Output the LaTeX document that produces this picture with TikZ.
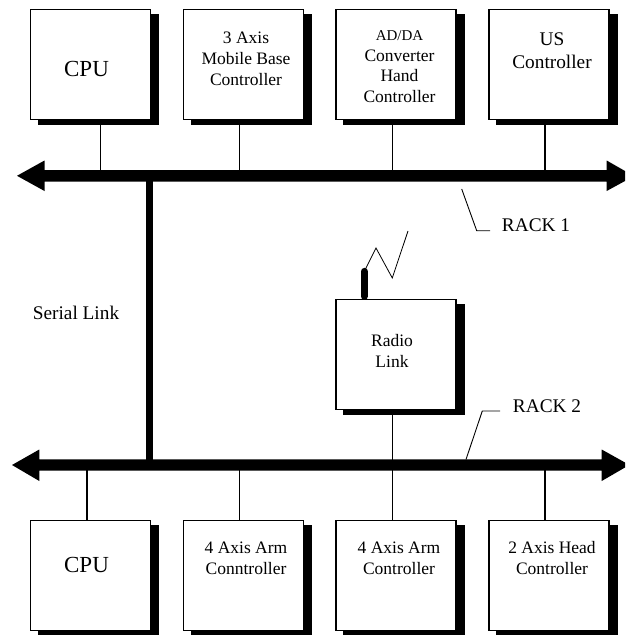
\documentclass[tikz,border=0pt]{standalone}
\usepackage{fontspec}
\setmainfont{Liberation Serif}
\usetikzlibrary{shadows}
\tikzset{
  x=1pt,y=-1pt,
  boxnode/.style={draw=black,line width=1.4pt,fill=white,minimum width=120pt,minimum height=110pt,inner sep=0pt,outer sep=0pt,
    copy shadow={fill=black,draw=black,shadow xshift=8pt,shadow yshift=-5pt}},
  txt/.style={inner sep=0pt,outer sep=0pt,anchor=base,align=center,font=\fontsize{17.5}{20.6}\selectfont},
  big/.style={txt,font=\fontsize{19.3}{23}\selectfont},
  cpu/.style={txt,font=\fontsize{23}{26}\selectfont},
  wire/.style={line width=1.3pt,draw=black},
  leader/.style={line width=0.9pt,draw=black},
  busline/.style={fill=black,draw=none},
  linkline/.style={line width=7.5pt,draw=black},
}
\begin{document}
\begin{tikzpicture}
\useasboundingbox (0,0) rectangle (625,635);
% named points
\coordinate (bus1) at (320,176);
\coordinate (bus2) at (320,465);
\coordinate (t1) at (100.5,0);
\coordinate (t2) at (239.5,0);
\coordinate (t3) at (392.5,0);
\coordinate (t4) at (545,0);
\coordinate (b1) at (87,0);
\coordinate (link) at (149.5,0);
\coordinate (ant) at (364.3,0);
% boxes
\node[boxnode] (a1) at (90.7,64.5) {};
\node[boxnode] (a2) at (243.5,64.5) {};
\node[boxnode] (a3) at (396,64.5) {};
\node[boxnode] (a4) at (549,64.5) {};
\node[boxnode] (radio) at (396,354.3) {};
\node[boxnode] (c1) at (90.7,575.5) {};
\node[boxnode] (c2) at (243.5,575.5) {};
\node[boxnode] (c3) at (396,575.5) {};
\node[boxnode] (c4) at (549,575.5) {};
% connectors
\draw[wire] (t1 |- a1.south) -- (t1 |- bus1);
\draw[wire] (t2 |- a2.south) -- (t2 |- bus1);
\draw[wire] (t3 |- a3.south) -- (t3 |- bus1);
\draw[wire] (t4 |- a4.south) -- (t4 |- bus1);
\draw[wire] (t3 |- radio.south) -- (t3 |- c3.north);
\draw[wire] (b1 |- bus2) -- (b1 |- c1.north);
\draw[wire] (t2 |- bus2) -- (t2 |- c2.north);
\draw[wire] (t4 |- bus2) -- (t4 |- c4.north);
\draw[linkline] (link |- bus1) -- (link |- bus2);
% buses
\fill[busline] (17,175.8) -- (44.5,160.5) -- (44.5,170.2) -- (606.7,170.2) -- (606.7,160.5) -- (625,171) -- (625,181) -- (606.7,191) -- (606.7,181.6) -- (44.5,181.6) -- (44.5,191) -- cycle;
\fill[busline] (12,465) -- (39.3,449.5) -- (39.3,459.4) -- (601.7,459.4) -- (601.7,449.5) -- (625,462.5) -- (625,467.5) -- (601.7,481) -- (601.7,470.6) -- (39.3,470.6) -- (39.3,481) -- cycle;
% antenna
\draw[line width=7.3pt,line cap=round] (ant |- radio.north) ++(0,-3) -- (364.3,271.5);
\coordinate (z1) at (365,270);
\coordinate (z2) at (376,248);
\coordinate (z3) at (392.3,278);
\coordinate (z4) at (408,231);
\draw[line width=0.8pt,line join=miter] (z1) -- (z2) -- (z3) -- (z4);
% leaders
\coordinate (r1a) at (461.7,189);
\coordinate (r1b) at (476.7,230.7);
\coordinate (r1c) at (490,230.7);
\draw[leader] (r1a) -- (r1b) -- (r1c);
\coordinate (r2a) at (466,459.5);
\coordinate (r2b) at (482.3,411);
\coordinate (r2c) at (500,411);
\draw[leader] (r2a) -- (r2b) -- (r2c);
% texts
\node[cpu] (tcpu1) at (86.5,76) {CPU};
\node[txt] (tmob) at (246,85) {3 Axis\\Mobile Base\\Controller};
\node[txt] (tad) at (399.5,102.5) {{\fontsize{15}{20.6}\selectfont AD/DA}\\Converter\\Hand\\Controller};
\node[big] (tus) at (552,68) {US\\Controller};
\node[txt] (trad) at (392,367) {Radio\\Link};
\node[big] (track1) at (536,231) {RACK 1};
\node[big] (track2) at (547,412) {RACK 2};
\node[big] (tser) at (76,319) {Serial Link};
\node[cpu] (tcpu2) at (86.5,572.7) {CPU};
\node[txt] (tarm1) at (246,574) {4 Axis Arm\\Conntroller};
\node[txt] (tarm2) at (399,574) {4 Axis Arm\\Controller};
\node[txt] (thead) at (552,574) {2 Axis Head\\Controller};
\end{tikzpicture}
\end{document}
